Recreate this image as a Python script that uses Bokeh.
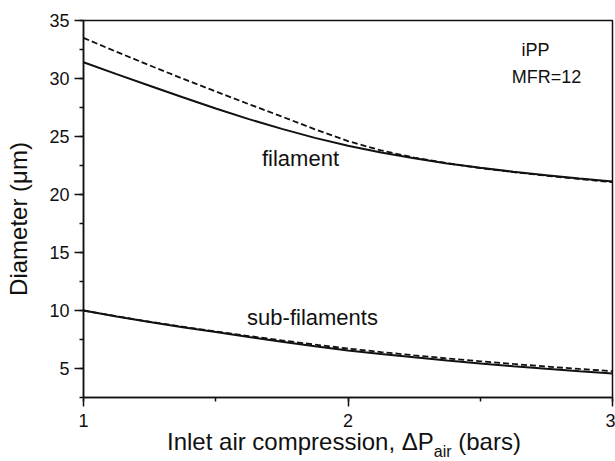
from bokeh.plotting import figure
from bokeh.models import Range1d, SingleIntervalTicker, Label, Div
from bokeh.layouts import column
from bokeh.embed import file_html
from bokeh.resources import INLINE

# ---- data ----
pressure = [1.0, 1.125, 1.25, 1.375, 1.5, 1.625, 1.75, 1.875, 2.0,
            2.125, 2.25, 2.375, 2.5, 2.625, 2.75, 2.875, 3.0]
filament_solid = [31.4, 30.38, 29.38, 28.38, 27.42, 26.5, 25.66, 24.88, 24.2,
                  23.62, 23.12, 22.68, 22.3, 21.96, 21.66, 21.38, 21.12]
filament_dashed = [33.5, 32.3, 31.13, 29.99, 28.88, 27.79, 26.72, 25.62, 24.6,
                   23.8, 23.18, 22.7, 22.28, 21.93, 21.62, 21.33, 21.06]
sub_solid = [10.0, 9.48, 9.0, 8.56, 8.15, 7.72, 7.3, 6.92, 6.56,
             6.24, 5.96, 5.69, 5.44, 5.2, 4.98, 4.77, 4.57]
sub_dashed = [10.0, 9.5, 9.03, 8.6, 8.2, 7.8, 7.42, 7.06, 6.72,
              6.42, 6.14, 5.87, 5.62, 5.39, 5.17, 4.96, 4.77]

x_ticks_interval = 1
y_ticks_interval = 5

FONT = "Liberation Sans"
INK = "#111111"

X0, X1 = 1.0, 3.0
Y0, Y1 = 2.5, 35.0

FIG_H = 440
p = figure(width=615, height=FIG_H, x_range=Range1d(X0, X1), y_range=Range1d(Y0, Y1),
           output_backend="svg", toolbar_location=None,
           min_border_left=83, min_border_right=3, min_border_top=20,
           min_border_bottom=FIG_H - 397)
p.background_fill_color = "white"
p.border_fill_color = "white"
p.outline_line_color = INK
p.outline_line_width = 1.5
p.xgrid.visible = False
p.ygrid.visible = False

# frame geometry helpers (frame: left 83, right 612, top 20, bottom 397)
FL, FR, FT, FB = 83.0, 612.0, 20.0, 397.0
def px2x(px):
    return X0 + (px - FL) * (X1 - X0) / (FR - FL)
def py2y(py):
    return Y1 - (py - FT) * (Y1 - Y0) / (FB - FT)

def style_axis(ax, ticker, font_size):
    ax.ticker = ticker
    ax.axis_line_color = INK
    ax.axis_line_width = 1.5
    ax.major_tick_line_color = INK
    ax.major_tick_line_width = 1.5
    ax.minor_tick_line_color = INK
    ax.minor_tick_line_width = 1.5
    ax.major_tick_in = 0
    ax.major_tick_out = 9
    ax.minor_tick_in = 0
    ax.minor_tick_out = 4
    ax.major_label_text_font = FONT
    ax.major_label_text_font_size = font_size
    ax.major_label_text_color = INK

xa = p.xaxis[0]
style_axis(xa, SingleIntervalTicker(interval=x_ticks_interval, num_minor_ticks=2), "18px")
xa.major_label_standoff = 7

ya = p.yaxis[0]
style_axis(ya, SingleIntervalTicker(interval=y_ticks_interval, num_minor_ticks=2), "18px")
ya.major_label_standoff = 5
ya.axis_label = "Diameter (\u03bcm)\u00a0\u00a0\u00a0"
ya.axis_label_text_font = FONT
ya.axis_label_text_font_size = "24px"
ya.axis_label_text_font_style = "normal"
ya.axis_label_text_color = INK
ya.axis_label_standoff = 14

# ---- curves ----
p.line(pressure, filament_dashed, line_color=INK, line_width=1.8, line_dash="6 3")
p.line(pressure, filament_solid, line_color=INK, line_width=2)
p.line(pressure, sub_dashed, line_color=INK, line_width=1.8, line_dash="6 3")
p.line(pressure, sub_solid, line_color=INK, line_width=2)

# ---- annotations ----
def add_text(txt, px, py, size, align="center"):
    p.add_layout(Label(x=px2x(px), y=py2y(py), text=txt, text_font=FONT,
                       text_font_size=size, text_color=INK, text_align=align,
                       text_baseline="alphabetic"))

add_text("filament", 300, 158, "22px")
add_text("sub-filaments", 312, 317, "22px")
add_text("iPP", 535, 49, "18px")
add_text("MFR=12", 546, 76, "18px")

# x-axis title with subscript, as real text below the plot
DIV_TOP = 422
title_html = (
    '<div style="white-space:nowrap;padding-left:167px;padding-top:7px;'
    "font-family:'Liberation Sans',Arial,sans-serif;font-size:24px;"
    'line-height:26px;color:#111111;">'
    'Inlet air compression, \u0394P'
    '<span style="font-size:16px;position:relative;top:7px;">air</span>'
    ' (bars)</div>'
)
xtitle = Div(text=title_html, width=615, height=461 - DIV_TOP,
             margin=(DIV_TOP - FIG_H, 0, 0, 0))

layout = column(p, xtitle, spacing=0)

open("out.html", "w").write(file_html(layout, INLINE))
